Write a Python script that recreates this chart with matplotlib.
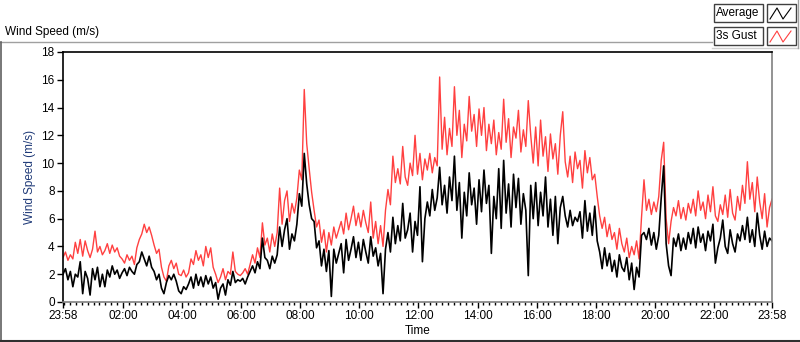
import matplotlib.pyplot as plt
import numpy as np
from matplotlib.patches import Rectangle
from matplotlib.lines import Line2D

# wind speed, one value every 5 min starting at 23:58
gust = [
    3.2, 3.6, 3.0, 3.4, 3.1, 4.3, 3.5, 4.5, 3.3, 4.4, 3.7, 3.2,
    3.8, 5.1, 3.6, 4.0, 3.4, 3.7, 4.2, 3.5, 4.1, 3.6, 3.9, 3.3,
    3.1, 2.8, 3.4, 3.0, 3.3, 2.7, 3.9, 4.5, 4.9, 5.6, 5.0, 5.4,
    4.8, 4.1, 3.5, 3.8, 2.5, 1.8, 1.5, 2.6, 3.0, 2.4, 2.8, 2.0,
    1.9, 2.3, 1.8, 2.1, 3.1, 2.7, 3.7, 3.0, 3.4, 2.6, 4.0, 3.2,
    3.9, 2.5, 2.0, 1.4, 1.8, 2.4, 1.6, 2.2, 2.0, 3.6, 2.2, 2.0,
    1.9, 2.1, 2.4, 2.0, 2.7, 3.4, 2.8, 3.9, 3.2, 5.7, 4.1, 4.6,
    3.6, 4.9, 4.0, 5.0, 8.2, 5.6, 7.3, 8.0, 5.8, 7.1, 6.4, 7.5,
    9.5, 8.8, 15.3, 11.4, 9.6, 7.9, 6.6, 5.4, 5.9, 4.3, 5.2, 3.6,
    5.0, 4.1, 5.4, 4.6, 5.2, 5.8, 4.9, 6.4, 5.2, 6.0, 6.9, 5.5,
    6.4, 5.4, 6.6, 5.7, 5.0, 7.2, 4.6, 5.8, 4.2, 5.5, 4.0, 6.6,
    8.1, 7.0, 10.5, 8.6, 9.6, 8.5, 11.2, 9.0, 8.4, 10.0, 9.1, 12.0,
    9.2, 10.7, 8.8, 10.3, 9.5, 10.7, 9.3, 10.4, 9.8, 16.2, 11.0, 13.3,
    10.6, 12.5, 11.2, 15.5, 12.0, 13.8, 10.4, 12.8, 11.6, 14.8, 12.3, 13.5,
    11.2, 13.9, 12.0, 14.0, 10.9, 12.8, 11.4, 13.1, 10.6, 12.2, 11.0, 14.6,
    11.5, 13.2, 10.4, 12.6, 11.8, 13.8, 10.8, 12.4, 11.2, 14.5, 12.0, 10.0,
    12.6, 9.8, 13.1, 10.5, 11.9, 9.4, 12.1, 10.3, 11.4, 9.2, 12.0, 13.7,
    10.1, 9.0, 10.5, 8.6, 10.8, 9.6, 10.2, 8.2, 10.9, 9.3, 10.4, 8.8,
    9.2, 7.6, 6.2, 5.3, 6.1, 4.7, 5.6, 4.5, 5.0, 3.8, 5.3, 4.2,
    3.6, 4.6, 3.2, 4.0, 3.4, 4.4, 3.1, 6.1, 8.8, 6.6, 7.4, 6.3,
    7.2, 6.5, 7.6, 10.2, 11.5, 6.0, 4.2, 5.8, 6.8, 6.2, 7.3, 6.0,
    6.8, 5.9, 7.1, 6.4, 7.4, 6.2, 8.0, 6.6, 7.2, 6.0, 7.7, 6.5,
    8.3, 6.2, 5.8, 7.0, 6.3, 7.7, 6.1, 8.1, 6.4, 5.9, 7.6, 6.6,
    8.4, 7.1, 10.1, 7.4, 8.6, 6.5, 9.0, 7.2, 6.0, 7.8, 5.4, 6.8,
    7.4]

average = [
    2.0, 2.4, 1.6, 2.2, 1.1, 2.0, 1.8, 2.9, 0.6, 2.2, 1.7, 0.5,
    2.4, 1.6, 2.5, 1.1, 2.0, 1.1, 2.3, 1.8, 2.6, 2.0, 2.3, 1.7,
    2.1, 2.4, 1.9, 2.5, 2.2, 2.0, 2.7, 2.9, 3.6, 3.1, 2.6, 3.3,
    2.5, 2.2, 1.6, 2.0, 1.0, 0.6, 1.4, 1.9, 1.6, 2.0, 1.5, 0.8,
    0.6, 1.1, 0.9, 1.3, 1.8, 1.0, 2.0, 1.2, 1.8, 1.1, 1.9, 1.3,
    1.8, 1.0, 1.4, 0.2, 1.0, 1.3, 0.5, 1.6, 1.2, 2.2, 1.4, 1.6,
    1.5, 1.7, 1.3, 1.8, 2.2, 2.6, 2.1, 2.9, 2.4, 4.6, 3.2, 3.0,
    2.4, 3.3, 2.8, 3.4, 5.4, 4.0, 5.2, 6.0, 3.8, 4.9, 4.4, 5.6,
    7.8, 6.9, 10.7, 8.5, 7.0, 6.0, 5.8, 3.9, 4.4, 2.6, 3.8, 2.2,
    3.7, 0.4, 3.8, 2.8, 3.5, 4.2, 2.1, 4.5, 3.0, 3.8, 4.7, 3.2,
    4.3, 3.0, 4.5, 3.6, 2.8, 4.7, 3.3, 3.9, 2.6, 3.5, 0.6, 3.8,
    5.0, 3.6, 6.1, 4.2, 5.5, 4.4, 7.1, 4.6, 5.2, 6.4, 3.6, 5.8,
    4.8, 8.3, 2.9, 6.0, 7.2, 6.2, 8.1, 6.6, 7.5, 9.7, 7.0, 8.4,
    6.4, 9.0, 7.3, 10.5, 6.6, 8.6, 4.6, 7.9, 6.2, 9.3, 7.0, 8.2,
    5.6, 8.8, 6.5, 9.5, 7.1, 8.4, 3.5, 7.6, 6.0, 9.6, 5.3, 10.2,
    6.4, 8.5, 5.4, 9.2, 6.8, 8.9, 5.6, 7.8, 6.6, 1.9, 8.4, 6.0,
    8.6, 5.5, 7.9, 6.2, 9.0, 5.4, 7.4, 4.8, 7.6, 4.2, 6.8, 7.6,
    6.2, 5.4, 6.6, 5.5, 6.1, 5.8, 6.5, 4.6, 7.3, 5.1, 6.4, 4.8,
    6.9, 4.4, 3.6, 2.4, 3.9, 2.6, 3.5, 2.2, 3.0, 1.8, 3.4, 2.5,
    2.2, 3.2, 1.6, 2.8, 0.9, 2.5, 1.8, 4.8, 5.0, 4.5, 5.3, 4.1,
    5.0, 3.8, 4.8, 7.5, 9.8, 4.2, 2.6, 1.9, 4.6, 4.0, 4.9, 3.7,
    4.6, 3.8, 5.0, 4.2, 5.3, 3.9, 5.4, 4.3, 4.9, 3.7, 5.1, 4.4,
    5.6, 2.8, 3.9, 4.6, 5.9, 4.0, 3.5, 5.2, 4.2, 3.6, 4.9, 4.4,
    5.5, 4.5, 6.1, 4.3, 5.2, 4.0, 6.4, 4.8, 3.8, 5.1, 4.0, 4.6,
    4.4]

tick_labels = ['23:58', '02:00', '04:00', '06:00', '08:00', '10:00', '12:00',
               '14:00', '16:00', '18:00', '20:00', '22:00', '23:58']

plt.rcParams['font.family'] = ['Liberation Sans', 'DejaVu Sans']

# hours since 23:58
t = np.arange(len(gust)) * 5 / 60.0
off = 2 / 60.0

fig = plt.figure(figsize=(8, 3.42), dpi=100, facecolor='white')
ax = fig.add_axes([63/800, 1-302/342, 709/800, 250/342])

ax.plot(t, gust, color='#ff4040', lw=1.0)
ax.plot(t, average, color='black', lw=1.2)

ax.set_xlim(0, 24)
ax.set_ylim(0, 18)
ax.set_yticks(np.arange(0, 19, 2))
major = [0] + [h + off for h in range(2, 23, 2)] + [24]
ax.set_xticks(major)
ax.set_xticklabels(tick_labels)
ax.set_xticks([k * 0.2 + off for k in range(120)], minor=True)
ax.tick_params(which='major', length=4, width=1, labelsize=8.5, pad=2)
ax.tick_params(which='minor', length=2.5, width=1)
ax.set_ylabel('Wind Speed (m/s)', color='#1f3a78', fontsize=8.5, labelpad=4)
ax.set_xlabel('Time', fontsize=8.5, labelpad=2)

ax.spines['left'].set_color('black')
ax.spines['top'].set_color('black')
ax.spines['bottom'].set_color('#808080')
ax.spines['right'].set_color('#808080')
for s in ax.spines.values():
    s.set_linewidth(1.2)

# labview style panel frame and caption
W, H = 800.0, 342.0
def fx(x): return x / W
def fy(y): return 1 - y / H
fig.add_artist(Line2D([fx(0), fx(712)], [fy(42), fy(42)], color='#a0a0a0', lw=1))
fig.add_artist(Line2D([fx(1), fx(1)], [fy(42), fy(341)], color='#606060', lw=1.2))
fig.add_artist(Line2D([fx(0), fx(800)], [fy(341), fy(341)], color='#303030', lw=1.5))
fig.add_artist(Line2D([fx(712), fx(798)], [fy(48), fy(48)], color='#d0d0d0', lw=1))
fig.add_artist(Line2D([fx(798), fx(798)], [fy(0), fy(48)], color='#a0a0a0', lw=1))
fig.text(fx(5), fy(32), 'Wind Speed (m/s)', fontsize=8.5, va='center', ha='left')

# legend boxes
for row, (name, col) in enumerate([('Average', 'black'), ('3s Gust', '#ff4040')]):
    y0 = 4 + row * 23
    fig.add_artist(Rectangle((fx(714), fy(y0 + 18)), 49/W, 18/H,
                             fill=False, ec='#404040', lw=1, transform=fig.transFigure))
    fig.add_artist(Rectangle((fx(767), fy(y0 + 18)), 29/W, 18/H,
                             fill=False, ec='#404040', lw=1, transform=fig.transFigure))
    fig.text(fx(716), fy(y0 + 9), name, fontsize=8.5, va='center', ha='left')
    zx = [770, 777, 783, 791]
    zy = [y0 + 15, y0 + 4, y0 + 15, y0 + 4]
    fig.add_artist(Line2D([fx(v) for v in zx], [fy(v) for v in zy], color=col, lw=0.8))

fig.savefig('out.png', dpi=100, facecolor='white')
